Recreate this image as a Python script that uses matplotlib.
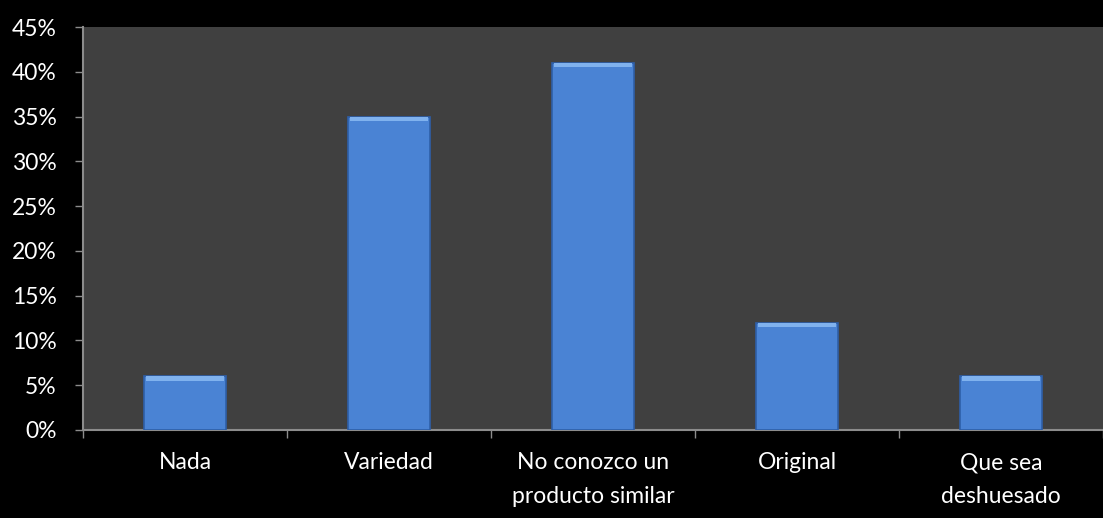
import matplotlib
matplotlib.use("Agg")
import matplotlib.pyplot as plt
import numpy as np
from matplotlib.ticker import FuncFormatter, MultipleLocator

categories = ["Nada", "Variedad", "No conozco un\nproducto similar", "Original", "Que sea\ndeshuesado"]
values = [6, 35, 41, 12, 6]

BG      = "#000000"
PLOT_BG = "#404040"
BAR     = "#4A83D4"
BAR_HI  = "#80B2EE"
BAR_DK  = "#2E5FA8"
AXIS    = "#8C8C8C"

plt.rcParams["font.family"] = ["Lato", "DejaVu Sans"]

fig = plt.figure(figsize=(11.03, 5.18), dpi=100)
fig.patch.set_facecolor(BG)
ax = fig.add_axes([83 / 1103, 1 - 430 / 518, 1020 / 1103, 403 / 518])
ax.set_facecolor(PLOT_BG)

x = np.arange(len(categories))
ax.bar(x, values, width=0.4, color=BAR, edgecolor=BAR_DK, linewidth=1.2, zorder=3)
# bevel highlight on the top of each bar
ax.bar(x, [0.5] * len(values), bottom=[v - 0.5 for v in values], width=0.38,
       color=BAR_HI, edgecolor="none", zorder=4)

ax.set_xlim(-0.5, len(categories) - 0.5)
ax.set_ylim(0, 45)
ax.yaxis.set_major_locator(MultipleLocator(5))
ax.yaxis.set_major_formatter(FuncFormatter(lambda v, _: f"{v:.0f}%"))

ax.set_xticks(np.arange(len(categories) + 1) - 0.5)
ax.set_xticklabels([])
ax.set_xticks(x, minor=True)
ax.set_xticklabels(categories, minor=True)
ax.tick_params(axis="x", which="minor", length=0, pad=16, labelsize=16.5, colors="white")
ax.tick_params(axis="x", which="major", length=6, width=1, color=AXIS)
ax.tick_params(axis="y", length=6, width=1, color=AXIS, labelsize=16.5, labelcolor="white", pad=13)

for side in ["top", "right"]:
    ax.spines[side].set_visible(False)
for side in ["left", "bottom"]:
    ax.spines[side].set_color(AXIS)
    ax.spines[side].set_linewidth(1.5)

for lbl in ax.get_xticklabels(minor=True):
    lbl.set_verticalalignment("top")
    lbl.set_linespacing(1.75)

fig.savefig("out.png", dpi=100, facecolor=fig.get_facecolor())
